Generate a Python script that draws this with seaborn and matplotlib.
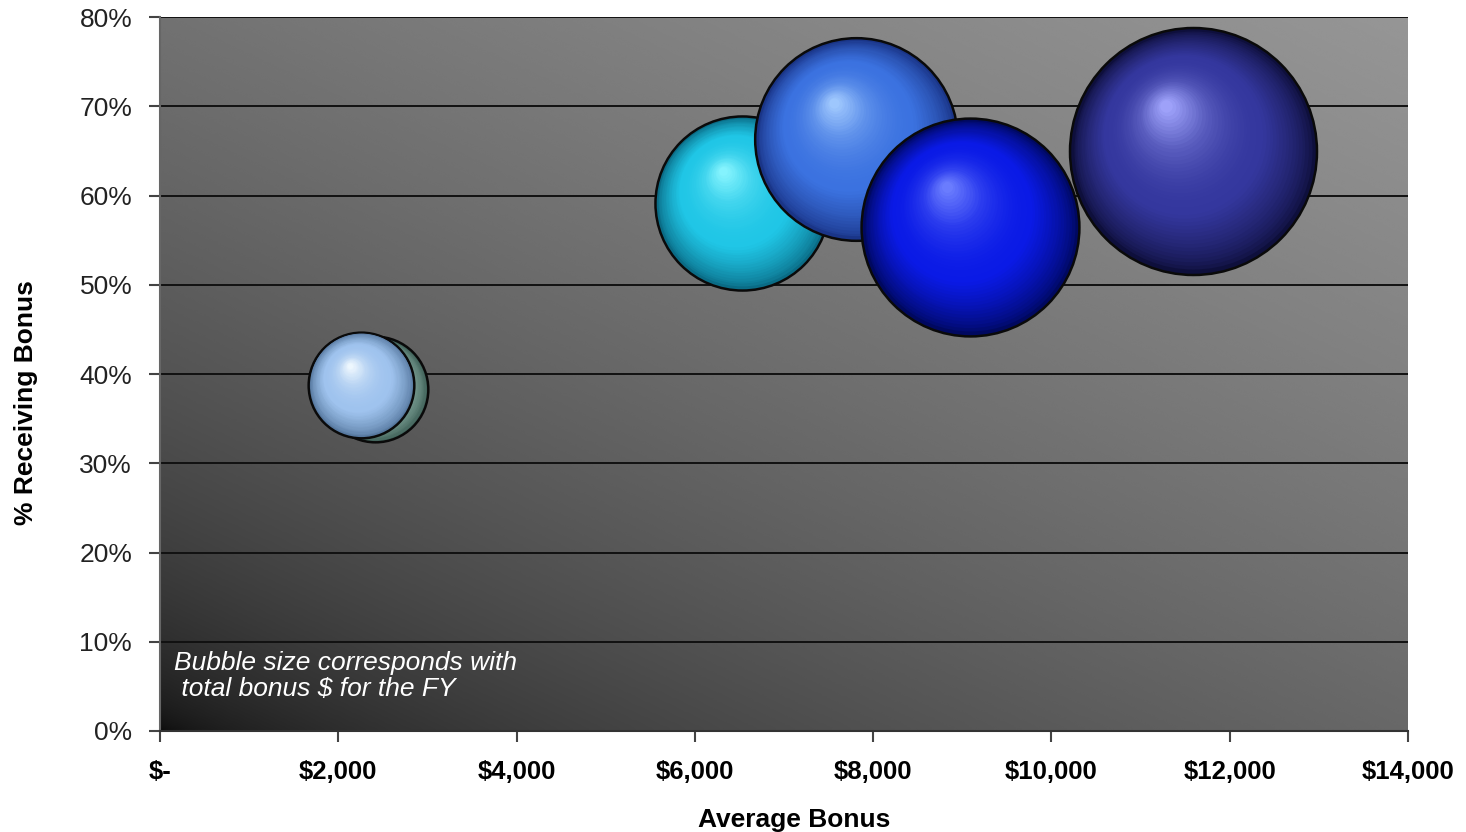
import numpy as np
import pandas as pd
import matplotlib
matplotlib.use("Agg")
import matplotlib.pyplot as plt
from matplotlib.colors import to_rgb
from matplotlib.transforms import ScaledTranslation
from matplotlib.ticker import FuncFormatter
import seaborn as sns

# ---------------- data ----------------
series = ["Group A", "Group B", "Group C", "Group D", "Group E", "Group F"]
avg_bonus = [2410, 2260, 6530, 7810, 11590, 9090]          # $ average bonus
pct_receiving = [38.3, 38.8, 59.2, 66.3, 65.0, 56.5]       # % receiving bonus
total_bonus = [2.8, 2.8, 7.6, 10.3, 15.3, 11.9]            # relative total bonus $ (bubble area)
x_ticks = [0, 2000, 4000, 6000, 8000, 10000, 12000, 14000]
y_ticks = [0, 10, 20, 30, 40, 50, 60, 70, 80]

# styles: (base, highlight, rim)
base_colors = ["#8db2a6", "#9fc3ee", "#20c6e6", "#3b72e0", "#34379e", "#0a1ae6"]
highlight_colors = ["#d2eee6", "#f2faff", "#8af6ff", "#a4ccff", "#a4a8ff", "#7082ff"]
rim_colors = ["#3f6058", "#56789f", "#0a6c86", "#1a3588", "#0e0f3c", "#000860"]

df = pd.DataFrame({"series": series, "avg": avg_bonus, "pct": pct_receiving, "total": total_bonus})

sns.set_theme(style="white")
plt.rcParams["font.family"] = ["Liberation Sans", "DejaVu Sans"]

W, H, DPI = 14.66, 8.32, 100
fig = plt.figure(figsize=(W, H), dpi=DPI)
ax = fig.add_axes([160 / 1466, 101 / 832, 1248 / 1466, 714 / 832])

# gradient background (dark bottom-left -> light top-right)
gx, gy = np.meshgrid(np.linspace(0, 1, 400), np.linspace(0, 1, 400))
d = gx * 0.45 + gy * 0.55
g = (10 + 140 * d ** 0.5) / 255.0
ax.imshow(g, cmap="gray", vmin=0, vmax=1, extent=[0, 1, 0, 1], origin="lower",
          transform=ax.transAxes, aspect="auto", zorder=0, interpolation="bicubic")

# bubble sizing: area proportional to total bonus
R_MAX_PX = 123.5
SMAX = (2 * R_MAX_PX * 72 / DPI) ** 2
VMAX = max(total_bonus)


def mix(c1, c2, t):
    return tuple(np.array(to_rgb(c1)) * (1 - t) + np.array(to_rgb(c2)) * t)


for i in range(len(df)):
    z = 10 + i * 100
    sub = df.iloc[[i]]
    sns.scatterplot(data=sub, x="avg", y="pct", size="total", sizes=(0, SMAX),
                    size_norm=(0, VMAX), color=rim_colors[i], edgecolor="#0a0a0a",
                    linewidth=1.8, legend=False, ax=ax, zorder=z)
    s0 = SMAX * total_bonus[i] / VMAX
    r_pt = np.sqrt(s0) / 2
    steps = 45
    for k in range(1, steps):
        t = k / steps
        f = 1 - t * 0.97
        if t < 0.35:
            c = mix(rim_colors[i], base_colors[i], (t / 0.35) ** 0.7)
        elif t < 0.75:
            c = mix(base_colors[i], highlight_colors[i], ((t - 0.35) / 0.4) ** 2 * 0.35)
        else:
            c = mix(base_colors[i], highlight_colors[i], 0.35 + 0.65 * ((t - 0.75) / 0.25))
        off = (1 - f) * 0.38 * r_pt / 72.0
        tr = ax.transData + ScaledTranslation(-off * 0.6, off, fig.dpi_scale_trans)
        ax.scatter([avg_bonus[i]], [pct_receiving[i]], s=s0 * (f * 0.985) ** 2,
                   color=c, linewidths=0, transform=tr, zorder=z + k)

# axes formatting
ax.set_xlim(0, 14000)
ax.set_ylim(0, 80)
ax.set_xticks(x_ticks)
ax.set_yticks(y_ticks)
ax.xaxis.set_major_formatter(FuncFormatter(lambda v, p: "$-" if v == 0 else f"${v:,.0f}"))
ax.yaxis.set_major_formatter(FuncFormatter(lambda v, p: f"{v:.0f}%"))

ax.set_axisbelow(True)
ax.yaxis.grid(True, color="#111111", linewidth=1.4, zorder=1)
ax.xaxis.grid(False)
for side in ["top", "right"]:
    ax.spines[side].set_visible(False)
ax.spines["left"].set_color("#666666")
ax.spines["left"].set_linewidth(1.5)
ax.spines["bottom"].set_color("#333333")
ax.spines["bottom"].set_linewidth(1.5)

ax.tick_params(axis="x", direction="out", length=8, width=1.5, color="#444444", pad=13,
               labelsize=18.5, labelcolor="black", bottom=True)
ax.tick_params(axis="y", direction="out", length=8, width=1.5, color="#444444", pad=12,
               labelsize=19, labelcolor="#222222", left=True)
for lab in ax.get_xticklabels():
    lab.set_fontweight("bold")

ax.set_xlabel("Average Bonus", fontsize=19, fontweight="bold", color="black", labelpad=10)
ax.set_ylabel("% Receiving Bonus", fontsize=19, fontweight="bold", color="black")
ax.yaxis.set_label_coords(-0.098, 0.46)
ax.xaxis.set_label_coords(0.508, -0.108)

ax.text(0.011, 0.112, "Bubble size corresponds with\n total bonus $ for the FY",
        transform=ax.transAxes, ha="left", va="top", fontsize=19, style="italic",
        color="white", linespacing=1.1, zorder=2000)

fig.savefig("out.png", dpi=DPI)
